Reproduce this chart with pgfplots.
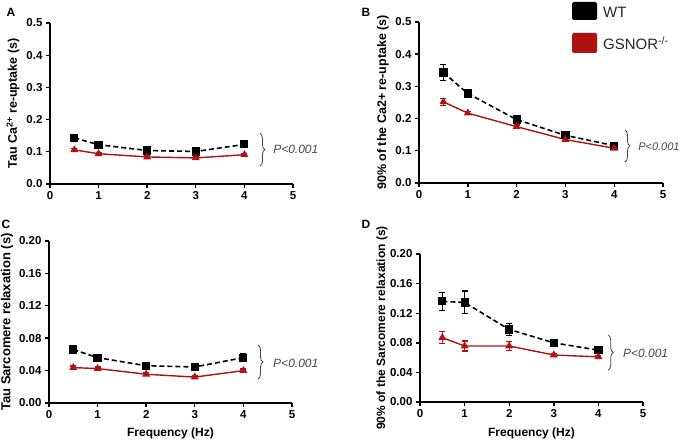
\documentclass[border=0pt]{standalone}
\usepackage{fontspec}
\setmainfont{Liberation Sans}
\usepackage{pgfplots}
\pgfplotsset{compat=1.18}
\usetikzlibrary{decorations.pathreplacing}
\definecolor{gred}{RGB}{176,18,18}
\definecolor{ptxt}{RGB}{70,70,70}

\pgfplotsset{
  panel/.style={
    scale only axis, clip=false,
    axis lines=left, axis line style={-, line width=2pt, black},
    xmin=0, xmax=5, xtick={0,1,2,3,4,5},
    tick align=outside, major tick length=4pt,
    tick style={line width=1.4pt, black},
    ticklabel style={font=\bfseries\fontsize{11.5}{13}\selectfont},
    /pgf/number format/assume math mode=true,
    ylabel style={font=\bfseries\fontsize{12.5}{14}\selectfont, at={(axis description cs:0,0.5)}, anchor=center},
    xlabel style={font=\bfseries\fontsize{12}{14}\selectfont, at={(axis description cs:0.5,0)}, anchor=center, yshift=-30pt},
  },
  wt/.style={black, line width=1.6pt, dash pattern=on 5pt off 3pt,
    mark=square*, mark size=3.3pt, mark options={solid},
    error bars/.cd, y dir=both, y explicit,
    error bar style={solid, line width=1.1pt, black},
    error mark options={rotate=90, mark size=3pt, line width=1.1pt, solid, black}},
  gs/.style={gred, line width=1.4pt, solid,
    mark=triangle*, mark size=3.2pt, mark options={solid},
    error bars/.cd, y dir=both, y explicit,
    error bar style={solid, line width=1.1pt, gred},
    error mark options={rotate=90, mark size=3pt, line width=1.1pt, solid, gred}},
}

\begin{document}
\begin{tikzpicture}
\path[use as bounding box] (0,0) rectangle (683pt,442pt);

% Panel A
\begin{axis}[panel, at={(50pt,258pt)}, anchor=south west, width=243pt, height=161pt,
  ymin=0, ymax=0.5, ytick={0,0.1,0.2,0.3,0.4,0.5},
  yticklabel style={/pgf/number format/.cd, fixed, fixed zerofill, precision=1},
  ylabel={Tau Ca\textsuperscript{2+} re-uptake (s)}, ylabel style={yshift=37pt}]
\addplot[wt] table[x=x, y=y, y error=e] {
x y e
0.5 0.143 0.004
1 0.122 0.004
2 0.104 0.003
3 0.101 0.003
4 0.123 0.004
};
\addplot[gs] table[x=x, y=y, y error=e] {
x y e
0.5 0.106 0.003
1 0.094 0.003
2 0.084 0.003
3 0.081 0.003
4 0.091 0.003
};
\draw[decorate, decoration={brace, amplitude=5pt}, line width=0.8pt, ptxt] (axis cs:4.32,0.158) -- (axis cs:4.32,0.056);
\node[anchor=west, font=\itshape\fontsize{12}{14}\selectfont, text=ptxt, inner sep=0pt] at (axis cs:4.59,0.106) {P<0.001};
\end{axis}

% Panel B
\begin{axis}[panel, at={(419pt,259pt)}, anchor=south west, width=244pt, height=161pt,
  ymin=0, ymax=0.5, ytick={0,0.1,0.2,0.3,0.4,0.5},
  yticklabel style={/pgf/number format/.cd, fixed, fixed zerofill, precision=1},
  ylabel={90\% of the Ca2+ re-uptake (s)}, ylabel style={yshift=36pt}]
\addplot[wt] table[x=x, y=y, y error=e] {
x y e
0.5 0.343 0.024
1 0.278 0.010
2 0.197 0.006
3 0.148 0.006
4 0.116 0.005
};
\addplot[gs] table[x=x, y=y, y error=e] {
x y e
0.5 0.252 0.010
1 0.217 0.005
2 0.175 0.005
3 0.135 0.005
4 0.108 0.005
};
\draw[decorate, decoration={brace, amplitude=5pt}, line width=0.8pt, ptxt] (axis cs:4.22,0.165) -- (axis cs:4.22,0.065);
\node[anchor=west, font=\itshape\fontsize{11}{13}\selectfont, text=ptxt, inner sep=0pt] at (axis cs:4.49,0.112) {P<0.001};
\end{axis}

% Panel C
\begin{axis}[panel, at={(49pt,39pt)}, anchor=south west, width=243pt, height=162pt,
  ymin=0, ymax=0.2, ytick={0,0.04,0.08,0.12,0.16,0.20},
  yticklabel style={/pgf/number format/.cd, fixed, fixed zerofill, precision=2},
  ylabel={Tau Sarcomere relaxation (s)}, ylabel style={yshift=42pt, font=\bfseries\fontsize{13}{15}\selectfont},
  xlabel={Frequency (Hz)}]
\addplot[wt] table[x=x, y=y, y error=e] {
x y e
0.5 0.066 0.004
1 0.056 0.003
2 0.046 0.002
3 0.0445 0.002
4 0.056 0.005
};
\addplot[gs] table[x=x, y=y, y error=e] {
x y e
0.5 0.0437 0.002
1 0.0425 0.002
2 0.0355 0.002
3 0.032 0.002
4 0.040 0.002
};
\draw[decorate, decoration={brace, amplitude=5pt}, line width=0.8pt, ptxt] (axis cs:4.30,0.0716) -- (axis cs:4.30,0.0296);
\node[anchor=west, font=\itshape\fontsize{12}{14}\selectfont, text=ptxt, inner sep=0pt] at (axis cs:4.61,0.0494) {P<0.001};
\end{axis}

% Panel D
\begin{axis}[panel, at={(420pt,40pt)}, anchor=south west, width=223pt, height=148pt,
  ymin=0, ymax=0.2, ytick={0,0.04,0.08,0.12,0.16,0.20},
  yticklabel style={/pgf/number format/.cd, fixed, fixed zerofill, precision=2},
  ylabel={90\% of the Sarcomere relaxation (s)},
  ylabel style={yshift=38pt, font=\bfseries\fontsize{12}{14}\selectfont},
  xlabel={Frequency (Hz)}, xlabel style={yshift=-1pt}]
\addplot[wt] table[x=x, y=y, y error=e] {
x y e
0.5 0.136 0.012
1 0.1345 0.0155
2 0.098 0.0085
3 0.080 0.004
4 0.070 0.003
};
\addplot[gs] table[x=x, y=y, y error=e] {
x y e
0.5 0.087 0.0078
1 0.0757 0.0068
2 0.0757 0.0060
3 0.0635 0.002
4 0.061 0.002
};
\draw[decorate, decoration={brace, amplitude=5pt}, line width=0.8pt, ptxt] (axis cs:4.22,0.0905) -- (axis cs:4.22,0.0432);
\node[anchor=west, font=\itshape\fontsize{12}{14}\selectfont, text=ptxt, inner sep=0pt] at (axis cs:4.55,0.066) {P<0.001};
\end{axis}

% Panel letters
\node[font=\bfseries\fontsize{12}{14}\selectfont] at (11pt,429.5pt) {A};
\node[font=\bfseries\fontsize{12}{14}\selectfont] at (366pt,430pt) {B};
\node[font=\bfseries\fontsize{12}{14}\selectfont] at (6pt,218pt) {C};
\node[font=\bfseries\fontsize{12}{14}\selectfont] at (366pt,218pt) {D};

% Legend
\fill[black, rounded corners=1.5pt] (572pt,422pt) rectangle (597pt,440pt);
\fill[gred, rounded corners=1.5pt] (572pt,389pt) rectangle (597pt,409pt);
\node[anchor=west, font=\fontsize{15}{17}\selectfont, text=black!85, inner sep=0pt] at (603pt,430pt) {WT};
\node[anchor=west, font=\fontsize{15}{17}\selectfont, text=black!85, inner sep=0pt] at (603pt,399pt) {GSNOR\textsuperscript{-/-}};
\end{tikzpicture}
\end{document}
